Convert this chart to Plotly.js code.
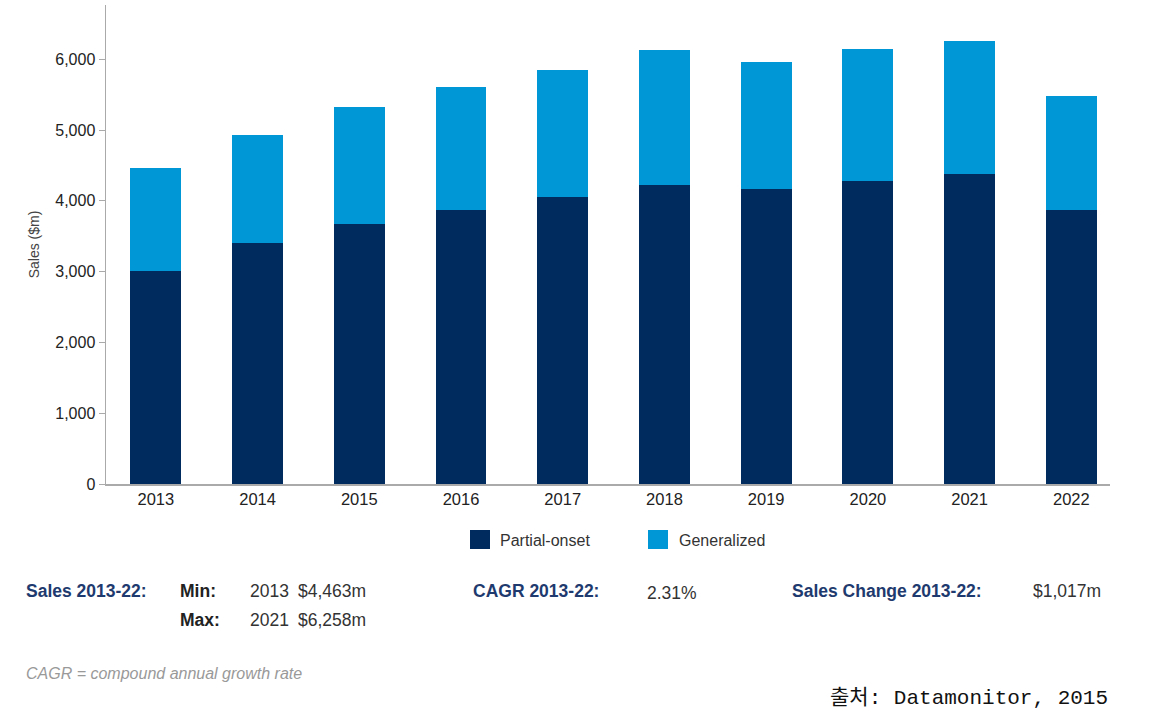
<!DOCTYPE html>
<html>
<head>
<meta charset="utf-8">
<script src="https://cdn.plot.ly/plotly-3.0.1.min.js"></script>
<style>html,body{margin:0;padding:0;background:#fff;}#chart{width:1163px;height:727px;}</style>
</head>
<body>
<div id="chart"></div>
<script>
var years = ['2013','2014','2015','2016','2017','2018','2019','2020','2021','2022'];
var partialOnset = [3008, 3400, 3668, 3866, 4058, 4223, 4162, 4284, 4374, 3866];
var generalized = [1455, 1529, 1661, 1737, 1794, 1902, 1798, 1860, 1884, 1614];
var seriesNames = ['Partial-onset', 'Generalized'];
var seriesColors = ['#002B5E', '#0097D7'];
var yTicks = [0, 1000, 2000, 3000, 4000, 5000, 6000];
var summaryLabels = ['Sales 2013-22:', 'CAGR 2013-22:', 'Sales Change 2013-22:'];
var minRow = ['Min:', '2013', '$4,463m'];
var maxRow = ['Max:', '2021', '$6,258m'];
var cagrText = '2.31%';
var changeText = '$1,017m';
var footnote = 'CAGR = compound annual growth rate';
var sourceText = '출처: Datamonitor, 2015';

var L = 106, R = 1110, T = 5, B = 484;
function px(x){ return (x - L) / (R - L); }
function py(y){ return (B - y) / (B - T); }
var FONT = 'Liberation Sans, Arial, sans-serif';
var NAVY = '#1E3A6E';

var traces = [
  {type:'bar', x: years, y: partialOnset, name: seriesNames[0], marker:{color: seriesColors[0]}, hoverinfo:'x+y+name'},
  {type:'bar', x: years, y: generalized, name: seriesNames[1], marker:{color: seriesColors[1]}, hoverinfo:'x+y+name'}
];

var ann = [];
var shapes = [];
function txt(t, x, y, opts){
  opts = opts || {};
  ann.push({text: t, xref:'paper', yref:'paper', x: px(x), y: py(y), xanchor: opts.xanchor || 'left', yanchor:'middle',
    showarrow:false, font:{family: opts.family || FONT, size: opts.size || 16, color: opts.color || '#333'}});
}
// legend
var legX = [470, 648], legTextX = [498, 677];
for (var i = 0; i < 2; i++) {
  shapes.push({type:'rect', xref:'paper', yref:'paper', x0: px(legX[i]), x1: px(legX[i] + 20), y0: py(549), y1: py(530),
    fillcolor: seriesColors[i], line:{width:0}});
  txt(seriesNames[i], legTextX[i], 540, {size: 16, color:'#333'});
}
// summary
var S = 17.5;
txt('<b>' + summaryLabels[0] + '</b>', 24, 591, {color: NAVY, size: S});
txt('<b>' + minRow[0] + '</b>', 178, 591, {color:'#222', size: S});
txt(minRow[1], 248, 591, {size: S});
txt(minRow[2], 296, 591, {size: S});
txt('<b>' + maxRow[0] + '</b>', 178, 620, {color:'#222', size: S});
txt(maxRow[1], 248, 620, {size: S});
txt(maxRow[2], 296, 620, {size: S});
txt('<b>' + summaryLabels[1] + '</b>', 471, 591, {color: NAVY, size: S});
txt(cagrText, 645, 593, {size: S});
txt('<b>' + summaryLabels[2] + '</b>', 790, 591, {color: NAVY, size: S});
txt(changeText, 1031, 591, {size: S});
txt('<i>' + footnote + '</i>', 24, 673, {color:'#999', size: 16});
txt(sourceText, 1110, 698, {xanchor:'right', size: 21, color:'#111', family:'Liberation Mono, DejaVu Sans Mono, Noto Sans CJK KR, monospace'});

var layout = {
  width: 1163, height: 727,
  margin: {l: L, r: 1163 - R, t: T, b: 727 - B},
  paper_bgcolor:'#fff', plot_bgcolor:'#fff',
  barmode:'stack', bargap: 0.5,
  showlegend:false,
  font:{family: FONT, color:'#333'},
  xaxis:{type:'category', range:[-0.49, 9.38], showline:true, linecolor:'#aaa', linewidth:1.5, ticks:'', showgrid:false,
    tickfont:{size:16.5, color:'#222'}, zeroline:false, fixedrange:true},
  yaxis:{range:[0, 6767], tickvals: yTicks, tickformat:',d', showline:true, linecolor:'#aaa', linewidth:1.5, ticks:'outside', ticklen:6,
    tickcolor:'#aaa', showgrid:false, zeroline:false, tickfont:{size:16, color:'#222'},
    title:{text:'Sales ($m)', font:{size:14, color:'#444'}, standoff: 12}, fixedrange:true},
  annotations: ann,
  shapes: shapes
};
Plotly.newPlot('chart', traces, layout, {displayModeBar:false, staticPlot:true});
</script>
</body>
</html>
